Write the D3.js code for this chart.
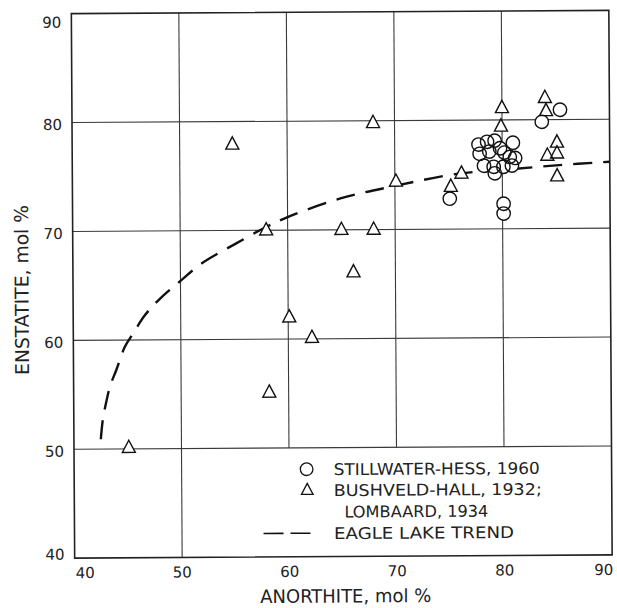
<!DOCTYPE html>
<html><head><meta charset="utf-8">
<script src="https://cdn.jsdelivr.net/npm/d3@7"></script>
<style>
html,body{margin:0;padding:0;background:#fff;}
svg{display:block;}
text{font-family:"DejaVu Sans",sans-serif;fill:#222;}
</style></head>
<body>
<svg id="chart" width="617" height="608"></svg>
<script>
// ---- data ----
const ticks = [40, 50, 60, 70, 80, 90];
const stillwaterX = [77.8, 78.6, 79.3, 81.0, 77.9, 78.8, 79.8, 80.2, 80.7, 81.2, 78.3, 79.2, 80.1, 80.9, 79.3, 75.1, 80.1, 80.1, 83.7, 85.4];
const stillwaterY = [77.75, 78.0, 78.1, 77.9, 76.9, 77.1, 77.4, 77.0, 76.6, 76.5, 75.8, 75.7, 75.7, 75.8, 75.1, 72.8, 72.3, 71.4, 79.8, 80.9];
const bushveldX = [45.1, 54.9, 58.0, 65.0, 68.0, 66.1, 60.1, 62.2, 58.2, 68.0, 70.1, 75.2, 76.2, 80.0, 79.9, 84.0, 84.1, 85.1, 84.2, 85.1, 85.1];
const bushveldY = [50.1, 77.9, 70.0, 70.0, 70.0, 66.1, 62.0, 60.1, 55.1, 79.8, 74.4, 73.9, 75.1, 81.1, 79.4, 82.0, 80.8, 77.9, 76.7, 76.9, 74.8];
const trendX = [42.5, 42.7, 43.0, 43.4, 44.0, 44.8, 45.5, 46.7, 48.0, 50.0, 52.0, 55.0, 58.0, 60.0, 65.0, 70.0, 76.0, 80.0, 85.0, 90.0];
const trendY = [50.9, 52.7, 54.2, 55.8, 57.3, 59.4, 60.5, 62.3, 63.7, 65.4, 67.0, 68.7, 70.3, 71.2, 72.9, 74.0, 75.1, 75.4, 75.8, 76.1];
const legendLabels = ["STILLWATER-HESS, 1960", "BUSHVELD-HALL, 1932;", "LOMBAARD, 1934", "EAGLE LAKE TREND"];
const xTitle = "ANORTHITE, mol %";
const yTitle = "ENSTATITE, mol %";

// ---- layout ----
const L = 73, R = 610.5, T = 12, B = 556.5;
const svg = d3.select("#chart");
const g = svg.append("g").attr("transform", "rotate(-0.35 342 285)");

const x = d3.scaleLinear().domain([40, 90]).range([L, R]);
const y = d3.scaleLinear().domain([40, 90]).range([B, T]);

const triType = {
  draw(ctx, size) {
    const h = Math.sqrt(size);
    ctx.moveTo(0, -0.62 * h);
    ctx.lineTo(0.53 * h, 0.38 * h);
    ctx.lineTo(-0.53 * h, 0.38 * h);
    ctx.closePath();
  }
};

// grid
const inner = ticks.slice(1, -1);
g.append("g").selectAll("line.h").data(inner).join("line")
  .attr("x1", L).attr("x2", R).attr("y1", d => y(d)).attr("y2", d => y(d))
  .attr("stroke", "#3a3a3a").attr("stroke-width", 1.1);
g.append("g").selectAll("line.v").data(inner).join("line")
  .attr("x1", d => x(d)).attr("x2", d => x(d))
  .attr("y1", T).attr("y2", d => d === 50 ? B : y(50))
  .attr("stroke", "#3a3a3a").attr("stroke-width", 1.1);
g.append("rect").attr("x", L).attr("y", T).attr("width", R - L).attr("height", B - T)
  .attr("fill", "none").attr("stroke", "#222").attr("stroke-width", 1.6);

// tick labels
g.append("g").selectAll("text").data(ticks).join("text")
  .attr("x", L - 10)
  .attr("y", d => Math.min(Math.max(y(d) + 2, T + 8.5), B - 4))
  .attr("dy", "0.36em").attr("text-anchor", "end")
  .attr("font-size", 15).text(d => d);
g.append("g").selectAll("text").data(ticks).join("text")
  .attr("x", (d, i) => i === 0 ? x(d) + 1 : (i === ticks.length - 1 ? x(d) + 1 : x(d)))
  .attr("y", 576.5)
  .attr("text-anchor", (d, i) => i === 0 ? "start" : (i === ticks.length - 1 ? "end" : "middle"))
  .attr("font-size", 15).text(d => d);

// titles
g.append("text").attr("x", 343.8).attr("y", 602.5).attr("text-anchor", "middle")
  .attr("font-size", 18.5).attr("textLength", 171).attr("lengthAdjust", "spacingAndGlyphs")
  .text(xTitle);
g.append("text").attr("transform", "translate(28.5 288) rotate(-90)")
  .attr("text-anchor", "middle")
  .attr("font-size", 19).attr("textLength", 170).attr("lengthAdjust", "spacingAndGlyphs")
  .text(yTitle);

// trend
const trend = trendX.map((v, i) => [v, trendY[i]]);
g.append("path").datum(trend)
  .attr("d", d3.line().x(d => x(d[0])).y(d => y(d[1])).curve(d3.curveCatmullRom.alpha(0.5)))
  .attr("fill", "none").attr("stroke", "#111").attr("stroke-width", 2.4)
  .attr("stroke-dasharray", "19 11");

// markers
const still = stillwaterX.map((v, i) => [v, stillwaterY[i]]);
const bush = bushveldX.map((v, i) => [v, bushveldY[i]]);
const tri = d3.symbol().type(triType).size(150);

const bg = g.append("g");
bg.selectAll("circle").data(still).join("circle")
  .attr("cx", d => x(d[0])).attr("cy", d => y(d[1])).attr("r", 6.7).attr("fill", "#fff");
bg.selectAll("path").data(bush).join("path")
  .attr("transform", d => `translate(${x(d[0])},${y(d[1])})`).attr("d", tri).attr("fill", "#fff");

const fg = g.append("g");
fg.selectAll("circle").data(still).join("circle")
  .attr("cx", d => x(d[0])).attr("cy", d => y(d[1])).attr("r", 6.7)
  .attr("fill", "none").attr("stroke", "#111").attr("stroke-width", 1.4);
fg.selectAll("path").data(bush).join("path")
  .attr("transform", d => `translate(${x(d[0])},${y(d[1])})`).attr("d", tri)
  .attr("fill", "none").attr("stroke", "#111").attr("stroke-width", 1.4);

// legend
const lg = g.append("g");
const rowY = [469, 490, 511.5, 533];
const textX = [332.5, 332.5, 343, 332.5];
const textW = [206, 208, 144, 180];
lg.append("circle").attr("cx", 305.5).attr("cy", rowY[0]).attr("r", 6.3)
  .attr("fill", "none").attr("stroke", "#111").attr("stroke-width", 1.3);
lg.append("path").attr("transform", `translate(306,${rowY[1]})`)
  .attr("d", d3.symbol().type(triType).size(120))
  .attr("fill", "none").attr("stroke", "#111").attr("stroke-width", 1.3);
lg.append("line").attr("x1", 262).attr("x2", 311).attr("y1", rowY[3]).attr("y2", rowY[3])
  .attr("stroke", "#111").attr("stroke-width", 1.6).attr("stroke-dasharray", "20 7");
lg.selectAll("text").data(legendLabels).join("text")
  .attr("x", (d, i) => textX[i]).attr("y", (d, i) => rowY[i] + 6)
  .attr("font-size", 16).attr("textLength", (d, i) => textW[i])
  .attr("lengthAdjust", "spacingAndGlyphs").text(d => d);
</script>
</body></html>
